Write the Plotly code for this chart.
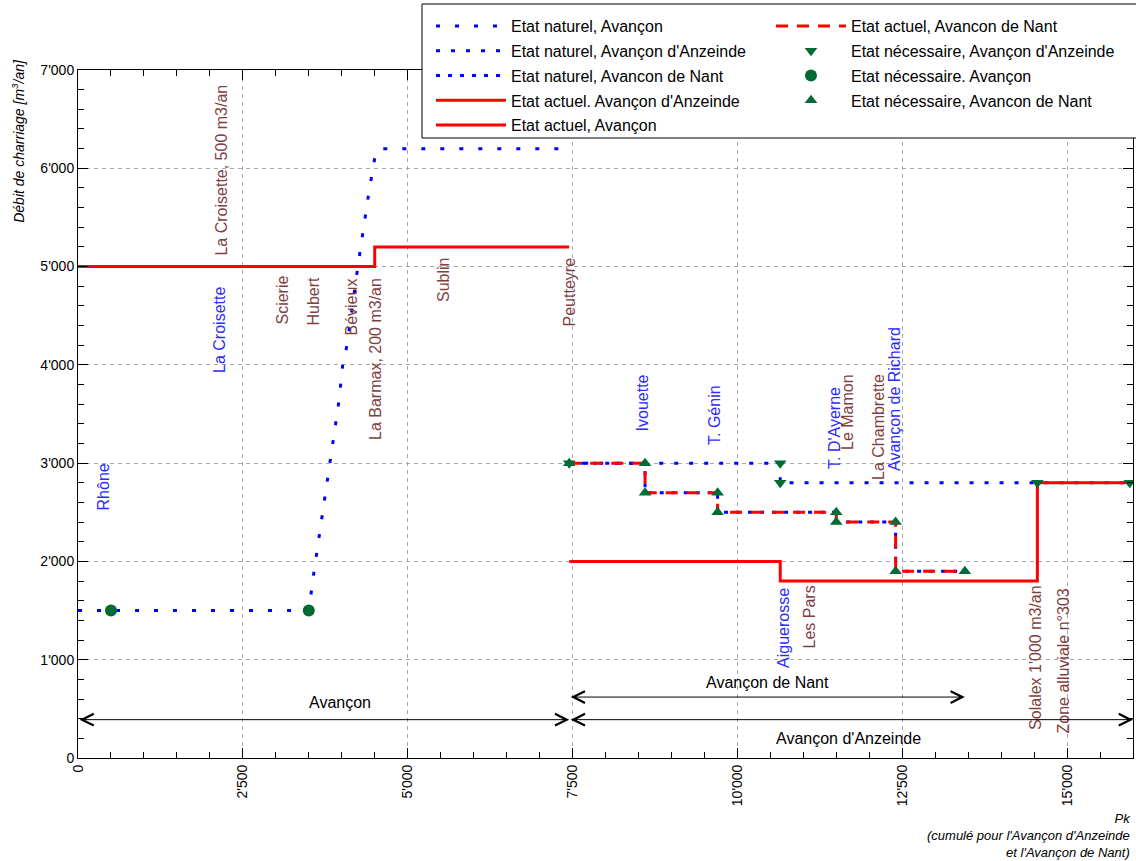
import plotly.graph_objects as go

# ---------------- data ----------------
# Etat naturel, Avançon
nat_avancon_pk = [0, 3500, 3580, 3790, 3955, 4015, 4080, 4240, 4410, 4500, 4560, 7450]
nat_avancon_q = [1500, 1500, 1900, 2870, 3620, 4000, 4200, 4980, 5750, 6100, 6200, 6200]
# Etat naturel, Avançon d'Anzeinde (steps)
nat_anz_pk = [7450, 10650, 15950]
nat_anz_q = [3000, 2800, 2800]
# Avançon de Nant (steps) - naturel / actuel
nant_pk = [7450, 8600, 9700, 11500, 12400, 13450]
nat_nant_q = [3000, 2700, 2500, 2400, 1900, 1900]
act_nant_q = [3000, 2700, 2500, 2400, 1900, 1900]
# Etat actuel, Avançon d'Anzeinde (steps)
act_anz_pk = [7450, 10650, 14550, 15950]
act_anz_q = [2000, 1800, 2800, 2800]
# Etat actuel, Avançon (steps)
act_avancon_pk = [0, 4500, 7450]
act_avancon_q = [5000, 5200, 5200]
# Etat nécessaire
nec_anz_pk = [7450, 10650, 10650, 14550, 15950]
nec_anz_q = [3000, 3000, 2800, 2800, 2800]
nec_avancon_pk = [500, 3500]
nec_avancon_q = [1500, 1500]
nec_nant_pk = [7450, 8600, 8600, 9700, 9700, 11500, 11500, 12400, 12400, 13450]
nec_nant_q = [3000, 3000, 2700, 2700, 2500, 2500, 2400, 2400, 1900, 1900]

# place names (vertical labels): text, pk, q at text start, kind (b=blue, m=brown)
label_text = ["Rhône", "La Croisette", "La Croisette, 500 m3/an", "Scierie", "Hubert",
              "Bévieux", "La Barmax, 200 m3/an", "Sublin", "Peutteyre", "Ivouette",
              "T. Génin", "T. D'Ayerne", "Le Mamon", "La Chambrette", "Avançon de Richard",
              "Aiguerosse", "Les Pars", "Solalex 1'000 m3/an", "Zone alluviale n°303"]
label_pk = [394, 2153, 2169, 3109, 3579, 4155, 4504, 5535, 7461, 8568,
            9645, 11465, 11662, 12132, 12390, 10691, 11101, 14528, 14953]
label_q = [2503, 3897, 5087, 4385, 4385, 4283, 3215, 4619, 4375, 3307,
           3164, 2920, 3113, 2808, 2900, 895, 1099, 265, 234]
label_kind = ["b", "b", "m", "m", "m", "m", "m", "m", "m", "b",
              "b", "b", "m", "m", "b", "b", "m", "m", "m"]

# river reaches (double arrows)
reach_name = ["Avançon", "Avançon de Nant", "Avançon d'Anzeinde"]
reach_start = [0, 7450, 7450]
reach_end = [7450, 13450, 16000]
reach_q = [390, 620, 390]
reach_label_pk = [3970, 10450, 11680]
reach_label_q = [560, 773, 203]

x_ticks = [0, 2500, 5000, 7500, 10000, 12500, 15000]
y_ticks = [0, 1000, 2000, 3000, 4000, 5000, 6000, 7000]

# ---------------- figure ----------------
BLUE = "#0000FF"
RED = "#FF0000"
GREEN = "#006B33"
LBLUE = "#2B2BFF"
BROWN = "#7F3F3F"
FONT = "Liberation Sans, Arial, sans-serif"

fig = go.Figure()


def add(x, y, name, legend, **kw):
    fig.add_trace(go.Scatter(x=x, y=y, name=name, legend=legend, legendgroup=name, **kw))


add(nat_avancon_pk, nat_avancon_q, "Etat naturel, Avançon", "legend", mode="lines",
    line=dict(color=BLUE, width=3, dash="4px,15px"))
add(nat_anz_pk, nat_anz_q, "Etat naturel, Avançon d'Anzeinde", "legend", mode="lines",
    line_shape="hv", line=dict(color=BLUE, width=3, dash="4px,11px"))
add(nant_pk, nat_nant_q, "Etat naturel, Avancon de Nant", "legend", mode="lines",
    line_shape="hv", line=dict(color=BLUE, width=3, dash="4px,8px"))
add(act_anz_pk, act_anz_q, "Etat actuel. Avançon d'Anzeinde", "legend", mode="lines",
    line_shape="hv", line=dict(color=RED, width=3))
add(act_avancon_pk, act_avancon_q, "Etat actuel, Avançon", "legend", mode="lines",
    line_shape="hv", line=dict(color=RED, width=3))
add(nant_pk, act_nant_q, "Etat actuel, Avancon de Nant", "legend2", mode="lines",
    line_shape="hv", line=dict(color=RED, width=3, dash="12px,9px"))
add(nec_anz_pk, nec_anz_q, "Etat nécessaire, Avançon d'Anzeinde", "legend2", mode="markers",
    marker=dict(symbol="triangle-down", size=11, color=GREEN))
add(nec_avancon_pk, nec_avancon_q, "Etat nécessaire. Avançon", "legend2", mode="markers",
    marker=dict(symbol="circle", size=12, color=GREEN))
add(nec_nant_pk, nec_nant_q, "Etat nécessaire, Avancon de Nant", "legend2", mode="markers",
    marker=dict(symbol="triangle-up", size=11, color=GREEN))

annotations = []
for t, xp, yq, k in zip(label_text, label_pk, label_q, label_kind):
    annotations.append(dict(x=xp, y=yq, xref="x", yref="y", text=t, showarrow=False,
                            textangle=-90, xanchor="center", yanchor="bottom",
                            font=dict(family=FONT, size=16, color=LBLUE if k == "b" else BROWN)))
for nm, s, e, q, lx, ly in zip(reach_name, reach_start, reach_end, reach_q,
                               reach_label_pk, reach_label_q):
    annotations.append(dict(x=e, y=q, ax=s, ay=q, xref="x", yref="y", axref="x", ayref="y",
                            text="", showarrow=True, arrowhead=5, startarrowhead=5,
                            arrowside="end+start", arrowsize=2.3, startarrowsize=2.3,
                            arrowwidth=1, arrowcolor="black", standoff=0, startstandoff=0))
    annotations.append(dict(x=lx, y=ly, xref="x", yref="y", text=nm, showarrow=False,
                            xanchor="center", yanchor="middle",
                            font=dict(family=FONT, size=16, color="black")))
annotations.append(dict(x=-0.057, y=1.019, xref="paper", yref="paper",
                        text="<i>Débit de charriage [m<sup>3</sup>/an]</i>", showarrow=False,
                        textangle=-90, xanchor="center", yanchor="top",
                        font=dict(family=FONT, size=14, color="black")))
annotations.append(dict(x=1.0, y=(758 - 809) / 688, xref="paper", yref="paper",
                        text="<i>Pk<br>(cumulé pour l'Avançon d'Anzeinde<br>et l'Avançon de Nant)</i>",
                        showarrow=False, align="right", xanchor="right", yanchor="top",
                        font=dict(family=FONT, size=13, color="black")))

axis_common = dict(showline=True, linecolor="black", linewidth=1, mirror="ticks",
                   ticks="inside", ticklen=10, tickcolor="black", tickwidth=1,
                   showgrid=True, gridcolor="#A8A8A8", gridwidth=1, griddash="4px,4px",
                   zeroline=False, tickformat=",d",
                   tickfont=dict(family=FONT, size=14, color="black"))

fig.update_layout(
    width=1136, height=861,
    margin=dict(l=78, r=3, t=70, b=103),
    paper_bgcolor="white", plot_bgcolor="white",
    separators=".'",
    font=dict(family=FONT, size=14, color="black"),
    xaxis=dict(range=[0, 16000], tickvals=x_ticks, tickangle=-90,
               minor=dict(dtick=500, tick0=0, ticks="inside", ticklen=6, tickcolor="black",
                          showgrid=False),
               **axis_common),
    yaxis=dict(range=[0, 7000], tickvals=y_ticks,
               minor=dict(dtick=200, tick0=0, ticks="inside", ticklen=6, tickcolor="black",
                          showgrid=False),
               **axis_common),
    legend=dict(x=(431 - 78) / 1055, y=(758 - 9) / 688, xanchor="left", yanchor="top",
                bgcolor="rgba(0,0,0,0)", borderwidth=0, itemwidth=70,
                font=dict(family=FONT, size=16, color="black"), tracegroupgap=1),
    legend2=dict(x=(771 - 78) / 1055, y=(758 - 9) / 688, xanchor="left", yanchor="top",
                 bgcolor="rgba(0,0,0,0)", borderwidth=0, itemwidth=70,
                 font=dict(family=FONT, size=16, color="black"), tracegroupgap=1),
    shapes=[dict(type="rect", xref="paper", yref="paper",
                 x0=(422 - 78) / 1055, x1=(1150 - 78) / 1055,
                 y0=(758 - 138) / 688, y1=(758 - 4) / 688,
                 fillcolor="white", line=dict(color="black", width=1), layer="above")],
    annotations=annotations,
)

fig.write_html("out.html", config={"displayModeBar": False},
               post_script="document.body.style.margin='0';document.body.style.overflow='hidden';")
